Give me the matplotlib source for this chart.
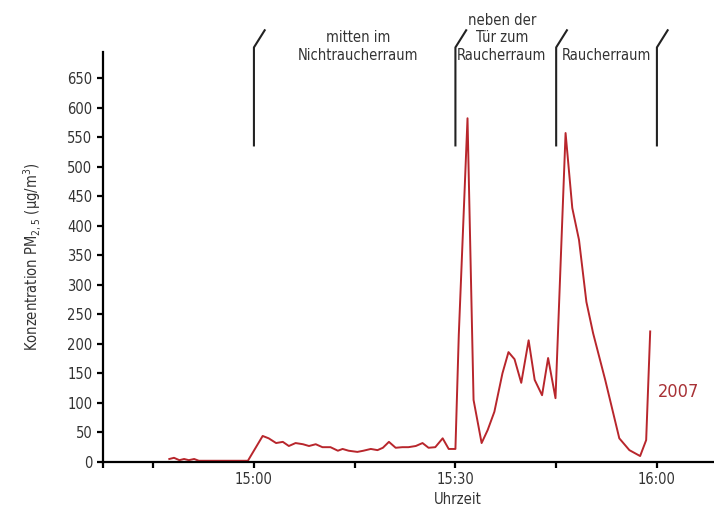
import matplotlib
matplotlib.use("Agg")
import matplotlib.pyplot as plt
from matplotlib.ticker import FixedLocator, FuncFormatter

# minutes after 15:00 and PM2.5 concentration
minutes = [-12.6, -11.9, -11.1, -10.4, -9.7, -8.9, -8.2, -0.9,
           1.3, 2.2, 3.3, 4.3, 5.2, 6.2, 7.3, 8.2, 9.2, 10.2, 11.4, 12.5,
           13.2, 14.1, 15.4, 16.3, 17.4, 18.4, 19.2, 20.1, 21.1, 22.1,
           23.0, 24.1, 25.1, 26.0, 27.0, 28.1, 29.0, 30.0, 30.5, 31.8,
           32.7, 33.9, 34.8, 35.8, 37.0, 37.9, 38.8, 39.8, 40.9, 41.8,
           42.9, 43.8, 44.9, 46.4, 47.4, 48.4, 49.5, 50.5, 52.3, 54.4,
           55.9, 57.5, 58.4, 59.0]
pm25 = [5, 7, 3, 5, 3, 5, 2, 2,
        44, 40, 32, 34, 27, 32, 30, 27, 30, 25, 25, 19,
        22, 19, 17, 19, 22, 20, 24, 34, 24, 25,
        25, 27, 32, 24, 25, 40, 22, 22, 215, 582,
        105, 32, 54, 85, 150, 186, 174, 134, 206, 139,
        113, 176, 108, 557, 430, 376, 271, 218, 139, 40,
        20, 10, 37, 221]

segment_bounds = [0, 30, 45, 60]
segment_labels = ["mitten im\nNichtraucherraum", "neben der\nTür zum\nRaucherraum", "Raucherraum"]
yticks = list(range(0, 651, 50))
xticks = [-22.5, -15, 0, 15, 30, 45, 60]
xtick_labels = {0: "15:00", 30: "15:30", 60: "16:00"}

plt.rcParams['font.family'] = ['DejaVu Sans']
plt.rcParams['font.stretch'] = 'condensed'

fig = plt.figure(figsize=(7.14, 5.11), dpi=100)
ax = fig.add_axes([0.144, 0.096, 0.856, 0.802])

red = "#b8262c"
ax.plot(minutes, pm25, color=red, lw=1.4, clip_on=False)

ax.set_xlim(-22.5, 68.5)
ax.set_ylim(0, 694)
ax.yaxis.set_major_locator(FixedLocator(yticks))
ax.xaxis.set_major_locator(FixedLocator(xticks))
ax.xaxis.set_major_formatter(FuncFormatter(lambda v, p: xtick_labels.get(int(v), "") if v == int(v) else ""))

for s in ["top", "right"]:
    ax.spines[s].set_visible(False)
for s in ["left", "bottom"]:
    ax.spines[s].set_linewidth(1.6)
ax.tick_params(axis="both", direction="out", length=4, width=1.6,
               labelsize=10.5, labelcolor="#333333")

ax.set_ylabel("Konzentration PM$_{2,5}$ (µg/m$^3$)", fontsize=10.5, color="#333333")
ax.yaxis.set_label_coords(-0.098, 0.5)
ax.text(30.3, -64, "Uhrzeit", ha="center", va="center", fontsize=10.5, color="#333333", clip_on=False)

# room segment markers above the plot
for b in segment_bounds:
    ax.plot([b, b, b + 1.6], [536, 702, 731], color="#222222", lw=1.5, clip_on=False)

label_x = [15.5, 36.9, 52.5]
for lx, txt in zip(label_x, segment_labels):
    ax.text(lx, 676, txt, ha="center", va="bottom", fontsize=10.5, color="#333333",
            linespacing=1.2, clip_on=False)

ax.text(60.2, 119, "2007", ha="left", va="center", fontsize=13, color="#a83236")

fig.savefig("out.png", dpi=100)
